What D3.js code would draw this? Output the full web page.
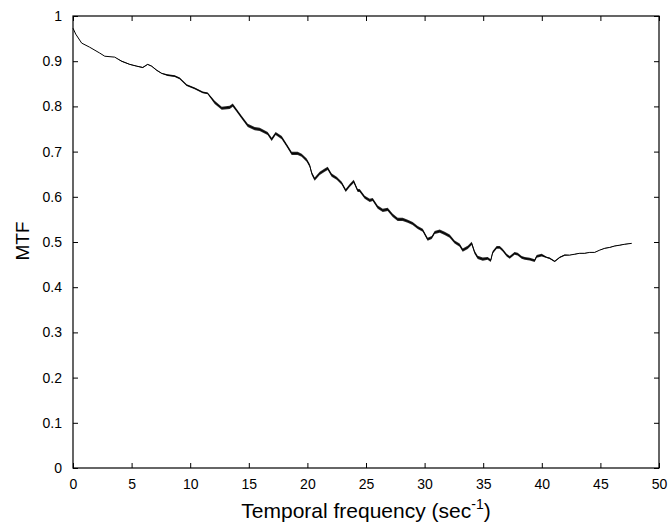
<!DOCTYPE html>
<html>
<head>
<meta charset="utf-8">
<script src="https://cdn.jsdelivr.net/npm/d3@7"></script>
<style>
  body { margin: 0; background: #fff; }
  text { font-family: Arial, "Liberation Sans", sans-serif; fill: #000; }
</style>
</head>
<body>
<div id="chart"></div>
<script>
// Curve
var freq = [0, 0.23, 0.74, 1.42, 2.28, 2.71, 3.56, 4.15, 4.84, 5.44, 5.95, 6.37, 6.71, 7.14, 7.57, 8.08,
  8.68, 9.10, 9.70, 10.38, 11.07, 11.49, 12.09, 12.69, 13.37, 13.63, 13.97, 14.39, 14.91, 15.50, 15.93,
  16.61, 16.95, 17.29, 17.81, 18.23, 18.66, 19.17, 19.51, 19.94, 20.20, 20.37, 20.62, 21.05, 21.48, 21.73,
  22.07, 22.50, 22.93, 23.27, 23.61, 23.95, 24.29, 24.46, 24.89, 25.32, 25.57, 26.00, 26.43, 26.85, 27.28,
  27.70, 28.13, 28.56, 28.98, 29.41, 29.84, 30.26, 30.61, 30.86, 31.29, 31.71, 32.14, 32.56, 32.99, 33.25,
  33.68, 34.02, 34.27, 34.53, 34.96, 35.38, 35.64, 35.81, 36.15, 36.41, 36.66, 37.00, 37.26, 37.68, 37.94,
  38.28, 38.54, 38.97, 39.39, 39.56, 39.99, 40.41, 40.67, 41.10, 41.53, 41.95, 42.38, 42.81, 43.23, 43.66,
  44.09, 44.51, 44.94, 45.37, 45.79, 46.20, 46.65, 47.07, 47.67];
var mtf = [0.973, 0.960, 0.940, 0.931, 0.918, 0.911, 0.909, 0.900, 0.893, 0.889, 0.886, 0.893, 0.889, 0.880, 0.873, 0.869,
  0.867, 0.862, 0.847, 0.840, 0.831, 0.829, 0.809, 0.796, 0.798, 0.803, 0.791, 0.776, 0.758, 0.751, 0.749,
  0.740, 0.727, 0.740, 0.731, 0.714, 0.696, 0.696, 0.692, 0.681, 0.669, 0.652, 0.639, 0.652, 0.659, 0.663,
  0.648, 0.641, 0.630, 0.614, 0.625, 0.634, 0.614, 0.614, 0.599, 0.592, 0.594, 0.577, 0.570, 0.572, 0.559,
  0.550, 0.550, 0.546, 0.541, 0.532, 0.526, 0.506, 0.510, 0.521, 0.524, 0.519, 0.513, 0.500, 0.493, 0.482,
  0.488, 0.497, 0.477, 0.466, 0.462, 0.464, 0.459, 0.477, 0.488, 0.488, 0.482, 0.471, 0.466, 0.475, 0.473,
  0.466, 0.464, 0.462, 0.459, 0.468, 0.471, 0.466, 0.464, 0.457, 0.466, 0.471, 0.471, 0.473, 0.475, 0.475,
  0.477, 0.477, 0.482, 0.486, 0.488, 0.491, 0.493, 0.495, 0.497];

// how thick the noisy band looks (half width, MTF units), from given frequency onwards
var spreadFreq = [0, 4, 8, 12, 35, 40, 42];
var spreadHalf = [0, 0.001, 0.002, 0.0035, 0.003, 0.0015, 0.0005];

var xTicks = [0, 5, 10, 15, 20, 25, 30, 35, 40, 45, 50];
var yTicks = [0, 0.1, 0.2, 0.3, 0.4, 0.5, 0.6, 0.7, 0.8, 0.9, 1];

var svgWidth = 670, svgHeight = 527;
var margin = {top: 16, right: 11, bottom: 59, left: 73};
var chartWidth = svgWidth - margin.left - margin.right;
var chartHeight = svgHeight - margin.top - margin.bottom;

var svg = d3.select("#chart").append("svg")
  .attr("width", svgWidth)
  .attr("height", svgHeight);

var chartGroup = svg.append("g")
  .attr("transform", `translate(${margin.left}, ${margin.top})`);

var xScale = d3.scaleLinear().domain([0, 50]).range([0, chartWidth]);
var yScale = d3.scaleLinear().domain([0, 1]).range([chartHeight, 0]);

var data = freq.map(function(f, i) {
  var s = 0;
  spreadFreq.forEach(function(sf, j) { if (f >= sf) s = spreadHalf[j]; });
  return {f: f, m: mtf[i], s: s};
});

// noisy band
chartGroup.append("path")
  .datum(data)
  .attr("d", d3.area()
    .x(d => xScale(d.f))
    .y0(d => yScale(d.m - d.s))
    .y1(d => yScale(d.m + d.s)))
  .attr("fill", "#000")
  .attr("opacity", 0.85);

chartGroup.append("path")
  .datum(data)
  .attr("d", d3.line().x(d => xScale(d.f)).y(d => yScale(d.m)))
  .attr("fill", "none")
  .attr("stroke", "#000")
  .attr("stroke-width", 1);

// axes, ticks pointing inwards like matlab
var fmt = d3.format("");
chartGroup.append("g")
  .attr("transform", `translate(0, ${chartHeight})`)
  .call(d3.axisBottom(xScale).tickValues(xTicks).tickFormat(fmt).tickSizeInner(-5).tickSizeOuter(0).tickPadding(11));
chartGroup.append("g")
  .call(d3.axisLeft(yScale).tickValues(yTicks).tickFormat(fmt).tickSizeInner(-5).tickSizeOuter(0).tickPadding(11));
chartGroup.append("g")
  .call(d3.axisTop(xScale).tickValues(xTicks).tickFormat("").tickSizeInner(-5).tickSizeOuter(0));
chartGroup.append("g")
  .attr("transform", `translate(${chartWidth}, 0)`)
  .call(d3.axisRight(yScale).tickValues(yTicks).tickFormat("").tickSizeInner(-5).tickSizeOuter(0));

chartGroup.selectAll(".tick text")
  .attr("font-size", 14)
  .attr("font-family", "Arial, 'Liberation Sans', sans-serif");
chartGroup.selectAll(".domain").attr("stroke", "none");

chartGroup.append("rect")
  .attr("x", 0).attr("y", 0)
  .attr("width", chartWidth).attr("height", chartHeight)
  .attr("fill", "none")
  .attr("stroke", "#000")
  .attr("stroke-width", 1.2);

// axis labels
var xl = svg.append("text")
  .attr("x", margin.left + chartWidth / 2)
  .attr("y", 518)
  .attr("text-anchor", "middle")
  .attr("font-size", 21);
xl.append("tspan").text("Temporal frequency (sec");
xl.append("tspan").attr("font-size", 14).attr("dy", -9).text("-1");
xl.append("tspan").attr("dy", 9).text(")");

svg.append("text")
  .attr("transform", "translate(29, 241) rotate(-90)")
  .attr("text-anchor", "middle")
  .attr("font-size", 19)
  .text("MTF");
</script>
</body>
</html>
